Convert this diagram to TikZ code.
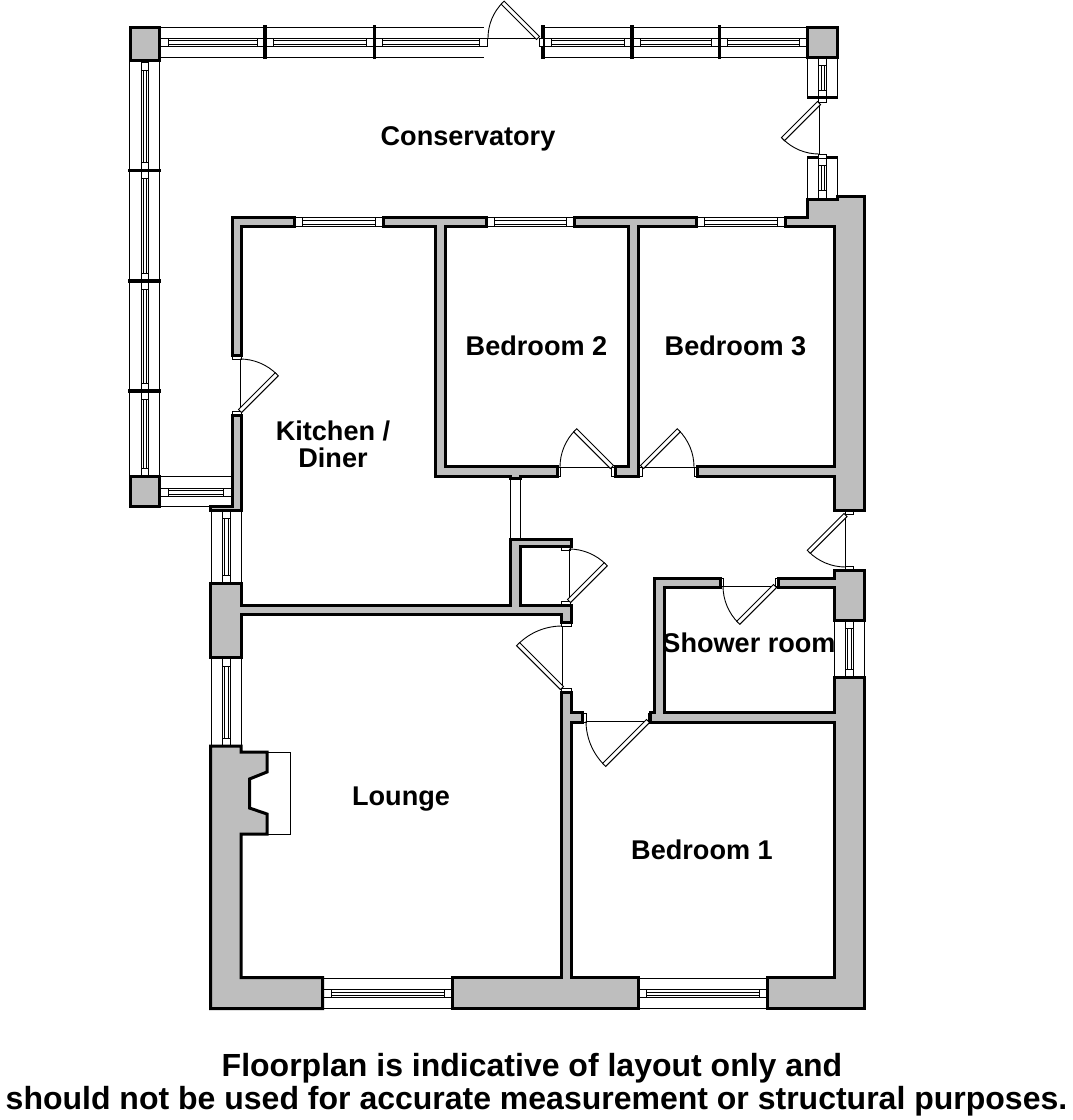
\documentclass[tikz,border=0pt]{standalone}
\usepackage{fontspec}
\setmainfont{Liberation Sans}
\definecolor{wallgray}{HTML}{BEBEBE}
\tikzset{
  wall/.style={fill=wallgray,draw=black,line width=3pt,miter limit=10},
  thinline/.style={draw=black,line width=0.9pt},
  glassline/.style={draw=black,line width=0.6pt},
  mullion/.style={draw=black,line width=3.2pt},
  roomlabel/.style={font=\bfseries\fontsize{27.1}{27}\selectfont,align=center,inner sep=0pt},
  notelabel/.style={font=\bfseries\fontsize{32}{33}\selectfont,inner sep=0pt,anchor=base}
}
% horizontal pane: x0 x1 ytop ybottom
\newcommand{\hpane}[4]{
  \draw[thinline,fill=white] (#1,#3) rectangle (#2,#4);
  \draw[thinline] (#1+8,#3) -- (#1+8,#4) (#2-8,#3) -- (#2-8,#4);
  \draw[glassline] (#1+8,#3+2.5) -- (#2-8,#3+2.5) (#1+8,#4-1.8) -- (#2-8,#4-1.8);
}
% vertical pane: y0 y1 xleft xright
\newcommand{\vpane}[4]{
  \draw[thinline,fill=white] (#3,#1) rectangle (#4,#2);
  \draw[thinline] (#3,#1+8) -- (#4,#1+8) (#3,#2-8) -- (#4,#2-8);
  \draw[glassline] (#3+2.5,#1+8) -- (#3+2.5,#2-8) (#4-1.8,#1+8) -- (#4-1.8,#2-8);
}
% door: hinge x, hinge y, closed angle, open angle, radius
\newcommand{\doorleaf}[5]{
  \draw[thinline] (#1,#2) -- ++(#3:#5);
  \draw[thinline] (#1,#2) ++(#3:#5) arc (#3:#4:#5);
  \draw[thinline,fill=white,shift={(#1,#2)},rotate=#4] (0,-2.2) rectangle (#5,2.2);
}
\begin{document}
\begin{tikzpicture}[x=1pt,y=1pt,yscale=-1]
  \useasboundingbox (0,0) rectangle (1072,1120);

  % conservatory frame
  \draw[thinline] (160,27) -- (484,27) (160,57.5) -- (484,57.5);
  \draw[thinline] (543,27) -- (807,27) (543,57.5) -- (807,57.5);
  \draw[thinline] (129.5,60) -- (129.5,476) (159.5,60) -- (159.5,476);
  \draw[thinline] (807.5,57) -- (807.5,97) (837.5,57) -- (837.5,97);
  \draw[thinline] (807.5,158) -- (807.5,199) (837,158) -- (837,199);
  \draw[thinline] (160,476.5) -- (232,476.5) (160,506.5) -- (232,506.5);

  \hpane{160.5}{265}{38}{46.5}
  \hpane{265}{374.5}{38}{46.5}
  \hpane{374.5}{487}{38}{46.5}
  \hpane{543}{632}{38}{46.5}
  \hpane{632}{719.5}{38}{46.5}
  \hpane{719.5}{807}{38}{46.5}
  \hpane{160.5}{231}{488}{496}

  \vpane{62}{170.5}{141}{148.5}
  \vpane{170.5}{281}{141}{148.5}
  \vpane{281}{391}{141}{148.5}
  \vpane{391}{476}{141}{148.5}
  \vpane{57}{98}{818.5}{826.5}
  \vpane{157.5}{198}{818.5}{826.5}

  \foreach \xm in {265,374.5,543,632,719.5}
    \draw[mullion] (\xm,25) -- (\xm,59);
  \foreach \ym in {170.5,281,391}
    \draw[mullion] (128,\ym) -- (161,\ym);
  \draw[mullion] (807,97.5) -- (838,97.5);
  \draw[mullion] (807,157.5) -- (838,157.5);

  \draw[wall] (130,27) rectangle (159.5,60);
  \draw[wall] (807.5,27) rectangle (837.5,57);
  \draw[wall] (130,476.5) rectangle (159.5,506.5);

  % house windows
  \hpane{294.5}{383}{217.5}{226}
  \hpane{486}{574}{217.5}{226}
  \hpane{696.5}{785}{217.5}{226}
  \draw[thinline] (211,510) -- (211,583) (241,510) -- (241,583);
  \draw[thinline] (211,658) -- (211,746) (241,658) -- (241,746);
  \vpane{510}{583}{222}{230}
  \vpane{658}{746}{222}{230}
  \draw[thinline] (834,620) -- (834,677) (864.5,620) -- (864.5,677);
  \vpane{620}{677}{845}{853}
  \draw[thinline] (323,978) -- (452,978) (323,1008.5) -- (452,1008.5);
  \draw[thinline] (638,978) -- (767,978) (638,1008.5) -- (767,1008.5);
  \hpane{323}{452}{989.5}{997.5}
  \hpane{638}{767}{989.5}{997.5}
  \draw[thinline] (510.5,478) -- (510.5,539) (520.5,478) -- (520.5,539);

  % fire surround
  \draw[thinline] (267,752) -- (290.5,752) -- (290.5,834) -- (267,834);

  % jambs
  \foreach \xa/\ya/\xb/\yb in {539/38/543/46,818.5/98/826.5/102,818.5/154/826.5/158,
      232/356/241/359.5,232/411.5/241/415,556.5/467/560/476,611.5/467/615/476,
      638/467/642/476,694/467/697/476,561.5/547/570/550,561.5/601/570/605,
      561.5/622.5/571/626,561.5/688/571/692,583/713/586/722.5,648.5/713/652/722.5,
      720/578/723.5/586,775/578/778.5/586,845/511/853.5/514.5,845/566/853.5/570}
    \draw[thinline,fill=white] (\xa,\ya) rectangle (\xb,\yb);

  % walls
  \draw[wall] (232,217) -- (294,217) -- (294,226.5) -- (241,226.5) -- (241,355) -- (232,355) -- cycle;
  \draw[wall] (232,415) -- (241,415) -- (241,510) -- (210.5,510) -- (210.5,506.5) -- (232,506.5) -- cycle;
  \draw[wall] (383,217) -- (486,217) -- (486,226.5) -- (445,226.5) -- (445,466.5) -- (557,466.5) -- (557,476)
    -- (520.5,476) -- (520.5,478.5) -- (510.5,478.5) -- (510.5,476) -- (435,476) -- (435,226.5) -- (383,226.5) -- cycle;
  \draw[wall] (574.5,217) -- (696,217) -- (696,226.5) -- (638,226.5) -- (638,476) -- (615,476) -- (615,466.5)
    -- (628,466.5) -- (628,226.5) -- (574.5,226.5) -- cycle;
  \draw[wall] (697,466.5) -- (834,466.5) -- (834,226.5) -- (785,226.5) -- (785,217) -- (807.5,217) -- (807.5,199)
    -- (837,199) -- (837,196) -- (864.5,196) -- (864.5,510.5) -- (834,510.5) -- (834,476) -- (697,476) -- cycle;
  \draw[wall] (210.5,583.5) -- (241,583.5) -- (241,605) -- (510.5,605) -- (510.5,539) -- (571,539) -- (571,546.5)
    -- (520.5,546.5) -- (520.5,605) -- (571,605) -- (571,622) -- (561,622) -- (561,614.5) -- (241,614.5)
    -- (241,657.5) -- (210.5,657.5) -- cycle;
  \draw[wall] (210.5,746) -- (241,746) -- (241,752) -- (267,752) -- (267,772) -- (249.5,779) -- (249.5,808)
    -- (267,814) -- (267,834) -- (241,834) -- (241,977.5) -- (322.5,977.5) -- (322.5,1008.5) -- (210.5,1008.5) -- cycle;
  \draw[wall] (452,977.5) -- (561,977.5) -- (561,692) -- (571,692) -- (571,712.5) -- (582.5,712.5) -- (582.5,722.5)
    -- (571,722.5) -- (571,977.5) -- (638,977.5) -- (638,1008.5) -- (452,1008.5) -- cycle;
  \draw[wall] (654.5,578) -- (654.5,712.5) -- (650,712.5) -- (650,722) -- (834,722) -- (834,977.5) -- (767,977.5)
    -- (767,1008.5) -- (864.5,1008.5) -- (864.5,677.5) -- (834,677.5) -- (834,712.5) -- (664.5,712.5) -- (664.5,587.5)
    -- (720,587.5) -- (720,578) -- cycle;
  \draw[wall] (778.5,578) -- (834,578) -- (834,570) -- (864.5,570) -- (864.5,620) -- (834,620) -- (834,587.5)
    -- (778.5,587.5) -- cycle;

  % doors
  \doorleaf{538}{38}{180}{225}{50}
  \doorleaf{819}{103}{90}{135}{51}
  \doorleaf{240}{411}{-90}{-45}{52}
  \doorleaf{612}{467}{180}{225}{52}
  \doorleaf{642}{467}{0}{-45}{52}
  \doorleaf{569}{601}{-90}{-45}{52}
  \doorleaf{845.5}{515}{90}{135}{52}
  \doorleaf{775}{586}{180}{135}{52}
  \doorleaf{562}{688}{-90}{-135}{62}
  \doorleaf{648}{721}{180}{135}{62}

  % room names
  \node[roomlabel,anchor=base] (conservatory) at (468,145) {Conservatory};
  \node[roomlabel] (kitchen) at (333,444.5) {Kitchen /\\Diner};
  \node[roomlabel,anchor=base] (bedtwo) at (536.5,355) {Bedroom 2};
  \node[roomlabel,anchor=base] (bedthree) at (735.5,355) {Bedroom 3};
  \node[roomlabel,anchor=base] (shower) at (749,652) {Shower room};
  \node[roomlabel,anchor=base] (lounge) at (401,805) {Lounge};
  \node[roomlabel,anchor=base] (bedone) at (702,859) {Bedroom 1};
  \node[notelabel] (notetop) at (532,1076) {Floorplan is indicative of layout only and};
  \node[notelabel] (notebottom) at (536.5,1109) {should not be used for accurate measurement or structural purposes.};

\end{tikzpicture}
\end{document}
